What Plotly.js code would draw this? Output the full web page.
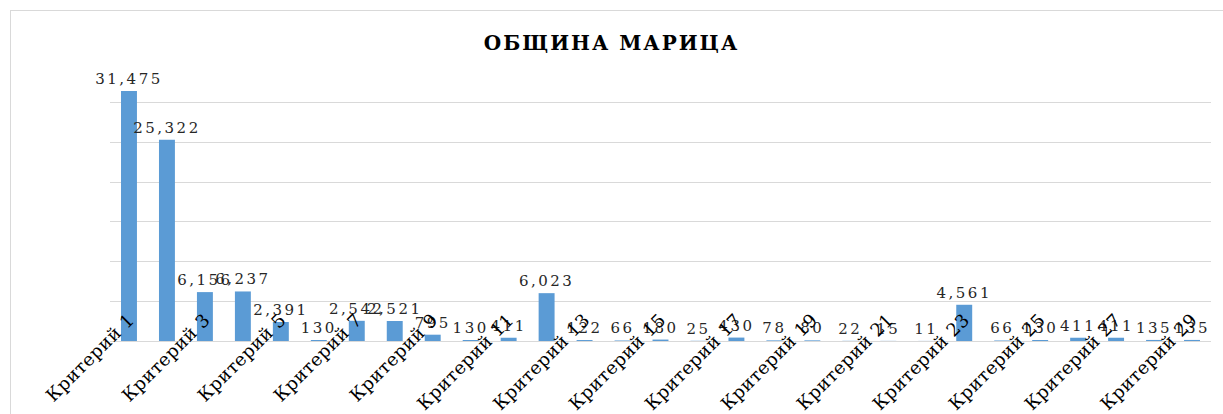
<!DOCTYPE html>
<html>
<head>
<meta charset="utf-8">
<script src="https://cdn.plot.ly/plotly-3.0.1.min.js"></script>
<style>
html,body{margin:0;padding:0;background:#fff;}
#wrap{position:relative;width:1223px;height:414px;overflow:hidden;}
#chart{width:1223px;height:414px;}
#frame{position:absolute;left:10px;top:10px;width:1230px;height:420px;border:1px solid #d9d9d9;pointer-events:none;box-sizing:border-box;}
#chart text.bartext{letter-spacing:2.5px;}
#chart .gtitle{letter-spacing:2px;}
#chart .xtick text{letter-spacing:0.5px;}
</style>
</head>
<body>
<div id="wrap"><div id="chart"></div><div id="frame"></div></div>
<script>
const categories = [
  "Критерий 1","Критерий 2","Критерий 3","Критерий 4","Критерий 5","Критерий 6",
  "Критерий 7","Критерий 8","Критерий 9","Критерий 10","Критерий 11","Критерий 12",
  "Критерий 13","Критерий 14","Критерий 15","Критерий 16","Критерий 17","Критерий 18",
  "Критерий 19","Критерий 20","Критерий 21","Критерий 22","Критерий 23","Критерий 24",
  "Критерий 25","Критерий 26","Критерий 27","Критерий 28","Критерий 29"
];
const values = [
  31475, 25322, 6156, 6237, 2391, 130,
  2542, 2521, 795, 130, 411, 6023,
  122, 66, 180, 25, 430, 78,
  80, 22, 15, 11, 4561, 66,
  130, 411, 411, 135, 135
];
const chartTitle = "ОБЩИНА МАРИЦА";
const shownTicks = categories.filter((c, i) => i % 2 === 0);

const trace = {
  type: "bar",
  x: categories,
  y: values,
  marker: {color: "#5B9BD5"},
  width: 0.42,
  texttemplate: "%{y:,}",
  textposition: "outside",
  constraintext: "none",
  cliponaxis: false,
  textfont: {family: "DejaVu Serif", size: 15, color: "#262626"},
  hoverinfo: "x+y"
};

const layout = {
  width: 1223,
  height: 414,
  margin: {l: 110, r: 12, t: 63, b: 73},
  paper_bgcolor: "#ffffff",
  plot_bgcolor: "#ffffff",
  showlegend: false,
  title: {
    text: chartTitle,
    font: {family: "DejaVu Serif", size: 20, color: "#000000", weight: "bold"},
    x: 0.5, xanchor: "center", y: 0.895, yanchor: "middle"
  },
  xaxis: {
    type: "category",
    tickmode: "array",
    tickvals: shownTicks,
    ticktext: shownTicks,
    tickangle: -45,
    ticks: "",
    ticklabelstandoff: -40,
    tickfont: {family: "DejaVu Serif", size: 18, color: "#000000"},
    showgrid: false,
    showline: true,
    linecolor: "#d9d9d9",
    linewidth: 1,
    automargin: false
  },
  yaxis: {
    range: [0, 35000],
    dtick: 5000,
    showticklabels: false,
    ticks: "",
    showgrid: true,
    gridcolor: "#d9d9d9",
    gridwidth: 1,
    zeroline: true,
    zerolinecolor: "#d9d9d9",
    automargin: false
  },
  bargap: 0.58
};

Plotly.newPlot("chart", [trace], layout, {displayModeBar: false, staticPlot: true});
</script>
</body>
</html>
